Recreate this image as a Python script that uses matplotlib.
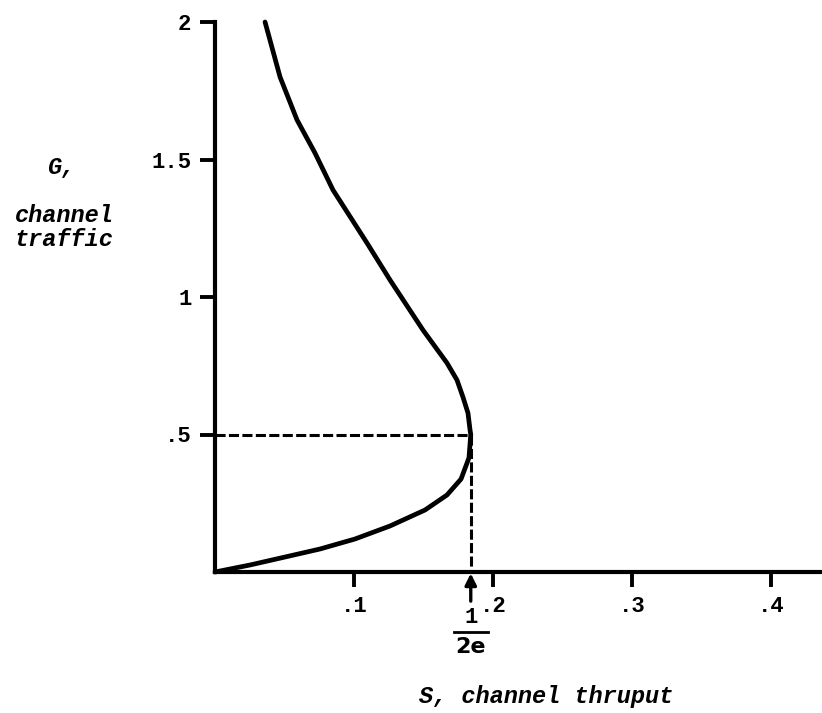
import matplotlib
matplotlib.use("Agg")
import matplotlib.pyplot as plt
from matplotlib import transforms

# S (thruput) against G (traffic), traced from G = 2 down through the
# maximum at G = .5 and back to the origin
thruput = [0.036, 0.0468, 0.059, 0.0719, 0.0849, 0.1094, 0.1259,
           0.1496, 0.1669, 0.1741, 0.1784, 0.182, 0.1835, 0.184,
           0.1827, 0.177, 0.1669, 0.1511, 0.1259, 0.1007, 0.0755,
           0.0504, 0.0252, 0.0]
traffic = [2.0, 1.80, 1.644, 1.524, 1.389, 1.196, 1.062,
           0.880, 0.760, 0.698, 0.636, 0.578, 0.516, 0.5,
           0.415, 0.338, 0.280, 0.2255, 0.1673, 0.120, 0.0836,
           0.0545, 0.0255, 0.0]

peak_s = 0.184   # 1/(2e)
peak_g = 0.5

x_ticks = [0.1, 0.2, 0.3, 0.4]
x_labels = [".1", ".2", ".3", ".4"]
y_ticks = [0.5, 1.0, 1.5, 2.0]
y_labels = [".5", "1", "1.5", "2"]

W, H = 822, 713
mono = "Liberation Mono"

fig = plt.figure(figsize=(W / 100, H / 100), dpi=100)
ax = fig.add_axes([215 / W, 141 / H, 607 / W, 550 / H])

ax.plot(thruput, traffic, color="black", lw=3.4, solid_capstyle="round",
        solid_joinstyle="round", clip_on=False, zorder=3)

# dashed guides to the maximum
ax.plot([0, peak_s], [peak_g, peak_g], color="black", lw=2.2,
        dashes=(3.3, 1.1), zorder=2)
ax.plot([peak_s, peak_s], [peak_g, 0], color="black", lw=2.2,
        dashes=(3.3, 1.1), zorder=2)

ax.set_xlim(0, 607 / 1390)
ax.set_ylim(0, 2.0)

for side in ("top", "right"):
    ax.spines[side].set_visible(False)
for side in ("left", "bottom"):
    ax.spines[side].set_linewidth(3.0)

ax.set_xticks(x_ticks)
ax.set_xticklabels(x_labels)
ax.set_yticks(y_ticks)
ax.set_yticklabels(y_labels)
ax.tick_params(direction="out", length=11, width=2.8, pad=6)
for lab in ax.get_xticklabels() + ax.get_yticklabels():
    lab.set_fontfamily(mono)
    lab.set_fontweight("bold")
    lab.set_fontsize(16)

# arrow and 1/2e marker under the axis
ax.annotate("", xy=(peak_s, 0), xytext=(0, -21), textcoords="offset points",
            xycoords="data", annotation_clip=False,
            arrowprops=dict(arrowstyle="-|>", lw=2.4, color="black",
                            mutation_scale=17, shrinkA=0, shrinkB=1))
ax.annotate("1", xy=(peak_s, 0), xytext=(0, -33), textcoords="offset points",
            ha="center", va="center", fontsize=16, fontweight="bold",
            family=mono, annotation_clip=False)
bar = transforms.offset_copy(ax.transData, fig=fig, x=0, y=-43, units="points")
ax.plot([peak_s - 0.0122, peak_s + 0.0122], [0, 0], color="black", lw=2.0,
        transform=bar, clip_on=False)
ax.annotate("2e", xy=(peak_s, 0), xytext=(0, -54), textcoords="offset points",
            ha="center", va="center", fontsize=16, fontweight="bold",
            family="DejaVu Sans", annotation_clip=False)

# axis titles
lab = dict(family=mono, style="italic", fontweight="bold", fontsize=17,
           ha="center", va="center")
fig.text(61 / W, 1 - 167 / H, "G,", **lab)
fig.text(64 / W, 1 - 215 / H, "channel", **lab)
fig.text(64 / W, 1 - 240 / H, "traffic", **lab)
fig.text(546 / W, 1 - 697 / H, "S, channel thruput", **lab)

fig.savefig("out.png", dpi=100)
